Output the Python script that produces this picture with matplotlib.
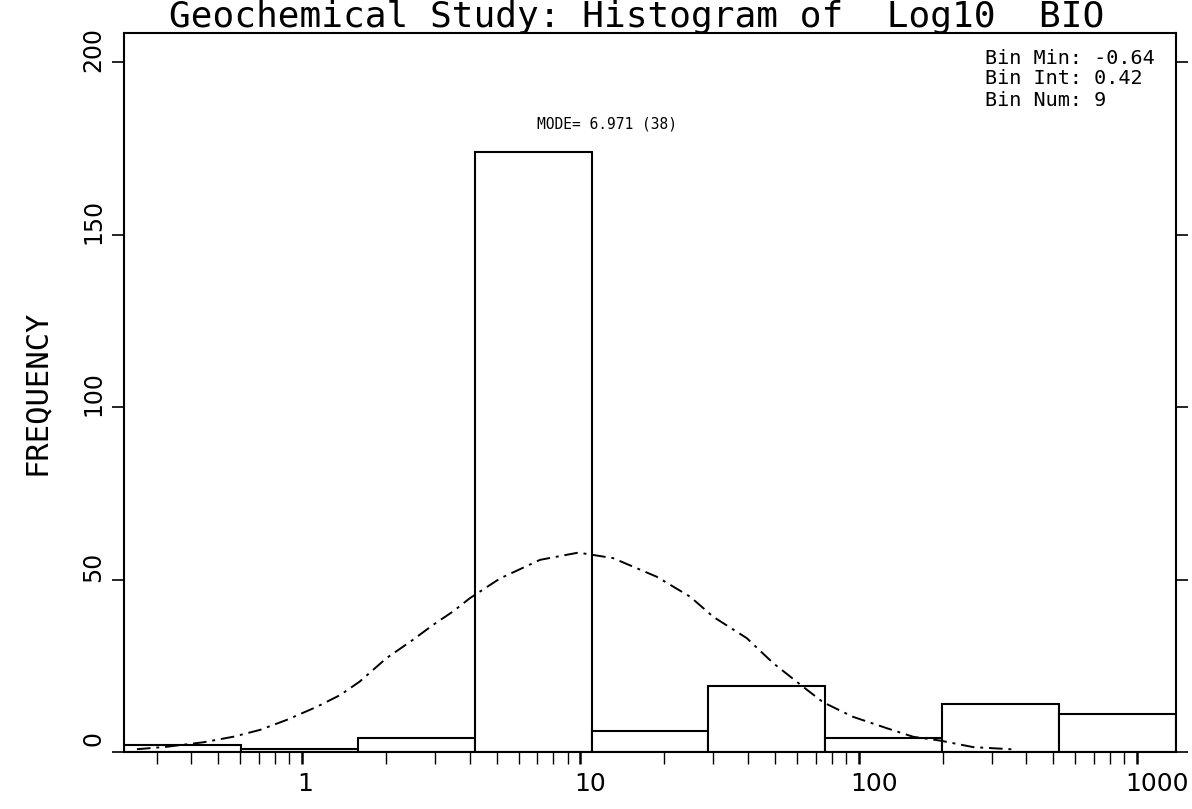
import matplotlib.pyplot as plt
import matplotlib.transforms as mtransforms
from matplotlib.ticker import NullFormatter, LogLocator
import numpy as np

# ヒストグラムの設定値 (図中の表示より)
bin_min = -0.64
bin_int = 0.42
bin_num = 9
counts = [2, 1, 4, 174, 6, 19, 4, 14, 11]

mode_value = 6.971
mode_label = "MODE= 6.971 (38)"

# 正規分布曲線 (図から読み取った点)
curve_x = [0.255, 0.326, 0.441, 0.565, 0.706, 0.881, 1.13, 1.37, 1.61, 2.01,
           2.50, 2.95, 3.48, 4.01, 5.14, 7.16, 9.83, 13.1, 18.8, 24.8,
           30.0, 39.6, 49.2, 63.1, 74.5, 95.3, 126, 157, 196, 258, 370]
curve_y = [0.8, 1.5, 2.8, 4.4, 6.4, 9.3, 13.1, 16.5, 20.4, 27.2,
           32.5, 36.8, 40.7, 44.6, 50.3, 55.7, 57.8, 56.2, 50.8, 45.0,
           39.2, 33.0, 25.8, 18.9, 14.4, 10.2, 6.9, 4.4, 3.3, 1.4, 0.7]

x_ticks = [1, 10, 100, 1000]
x_tick_labels = ["1", "10", "100", "1000"]
y_ticks = [0, 50, 100, 150, 200]

title = "Geochemical Study: Histogram of  Log10  BIO"
info_lines = ["Bin Min: -0.64", "Bin Int: 0.42", "Bin Num: 9"]

MONO = 'DejaVu Sans Mono'

fig = plt.figure(figsize=(11.92, 8.09), dpi=100)
ax = fig.add_axes([0.104, 0.0705, 0.8826, 0.8885])

edges = 10 ** (bin_min + bin_int * np.arange(bin_num + 1))
ax.bar(edges[:-1], counts, width=np.diff(edges), align='edge',
       facecolor='white', edgecolor='black', linewidth=1.5)

ax.plot(curve_x, curve_y, color='black', linewidth=1.4,
        linestyle=(0, (7, 3, 1.5, 3)))

ax.set_xscale('log')
ax.set_xlim(edges[0], edges[-1])
ax.set_ylim(0, 208.4)

ax.set_xticks(x_ticks)
ax.set_xticklabels(x_tick_labels)
ax.xaxis.set_minor_locator(LogLocator(base=10, subs=np.arange(2, 10)))
ax.xaxis.set_minor_formatter(NullFormatter())
ax.tick_params(axis='x', which='major', direction='out', length=8.5, width=1.8,
               labelsize=18, pad=6)
ax.tick_params(axis='x', which='minor', direction='out', length=8.5, width=1.0)

ax.set_yticks(y_ticks)
ax.tick_params(axis='y', direction='out', length=8.5, width=1.2,
               left=True, right=True, labelsize=17, pad=5)
for lab in ax.get_yticklabels():
    lab.set_rotation(90)
    lab.set_va('center')
    lab.set_transform(lab.get_transform() +
                      mtransforms.ScaledTranslation(0, 0.13, fig.dpi_scale_trans))

# x ラベルは元図と同じく少し右にずらす
for lab, dx in zip(ax.get_xticklabels(), [3, 10, 15, 20]):
    lab.set_transform(lab.get_transform() +
                      mtransforms.ScaledTranslation(dx / 100, 0, fig.dpi_scale_trans))

for sp in ax.spines.values():
    sp.set_linewidth(1.5)

ax.set_ylabel("FREQUENCY", fontsize=22, family=MONO, labelpad=22)

ax.text(mode_value, 182, mode_label, fontsize=10.5, family=MONO,
        ha='left', va='center')

for i, line in enumerate(info_lines):
    fig.text(985 / 1192, 1 - (58 + 21 * i) / 809, line, fontsize=14.5,
             family=MONO, ha='left', va='center')

fig.text(637 / 1192, 1 - 27 / 809, title, family=MONO,
         fontsize=26, ha='center', va='baseline')

fig.savefig("out.png", dpi=100)
plt.close(fig)
